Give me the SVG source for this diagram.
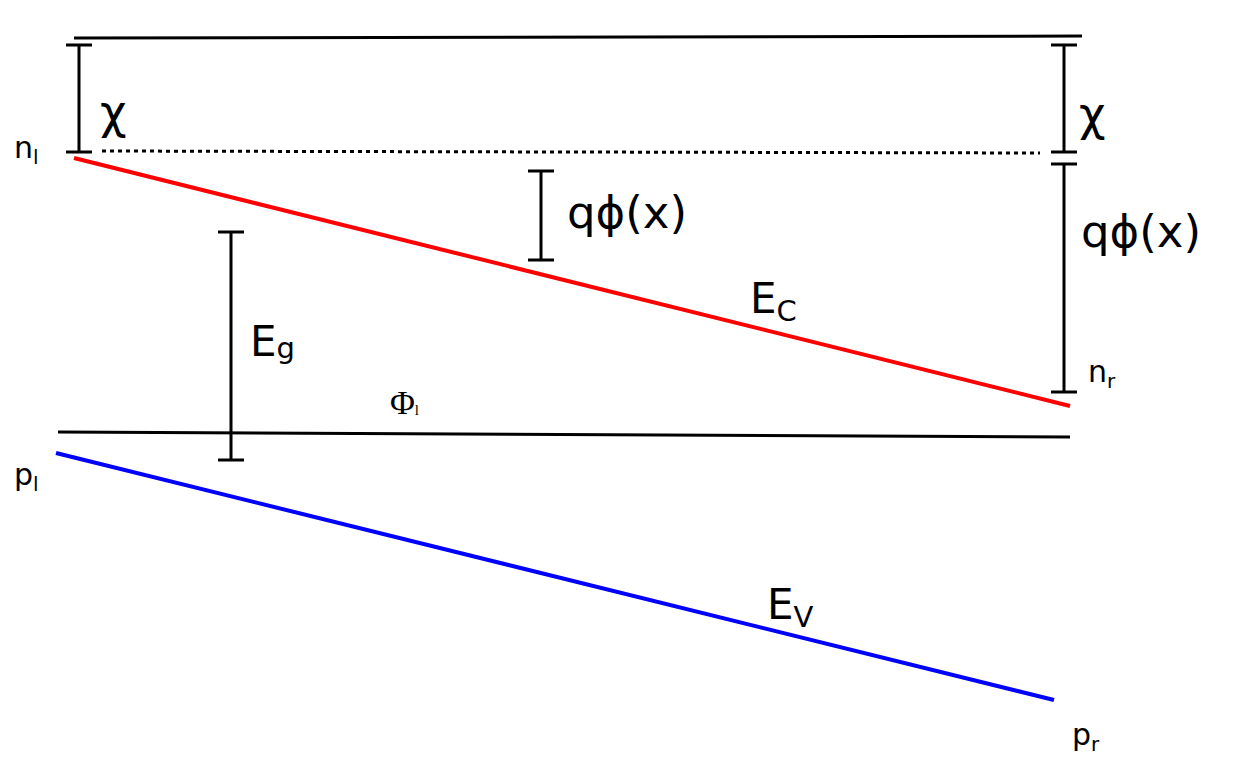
<svg xmlns="http://www.w3.org/2000/svg" width="1235" height="779" viewBox="0 0 1235 779">
<style>
.k{stroke:#000;stroke-width:3;fill:none}
.t{font-family:"DejaVu Sans",sans-serif;fill:#000}
.s{font-family:"Liberation Serif",serif;fill:#000}
</style>
<rect width="1235" height="779" fill="#fff"/>
<g id="connectors">
<line class="k" x1="74" y1="38" x2="1082" y2="36"/>
<line class="k" x1="102" y1="151" x2="1040" y2="153" stroke-dasharray="4,4"/>
<line x1="74" y1="158" x2="1070" y2="406" stroke="#f00" stroke-width="4"/>
<line class="k" x1="58" y1="432" x2="1070" y2="437"/>
<line x1="56" y1="453" x2="1054" y2="700" stroke="#00f" stroke-width="4"/>
<path class="k" d="M66 45H92M79 45V152M66 152H92"/>
<path class="k" d="M1051 45H1077M1064 45V152M1051 152H1077"/>
<path class="k" d="M1051 164H1077M1064 164V392M1051 392H1077"/>
<path class="k" d="M528 171H554M541 171V260M528 260H554"/>
<path class="k" d="M218 232H244M231 232V460M218 460H244"/>
</g>
<g id="labels">
<text class="t" x="100" y="128" font-size="46">χ</text>
<text class="t" x="1079" y="130" font-size="46">χ</text>
<text class="t" x="14" y="158" font-size="30">n<tspan font-size="20" dy="6">l</tspan></text>
<text class="t" x="567" y="228" font-size="45">qϕ(x)</text>
<text class="t" x="1081" y="247" font-size="45">qϕ(x)</text>
<text class="t" x="750" y="313" font-size="42">E<tspan font-size="29" dy="8">C</tspan></text>
<text class="t" x="250" y="356" font-size="42">E<tspan font-size="29" dy="2">g</tspan></text>
<text class="t" x="1088" y="382" font-size="30">n<tspan font-size="20" dy="6">r</tspan></text>
<text class="s" x="390" y="414" font-size="34">Φ<tspan font-size="15" dy="1">l</tspan></text>
<text class="t" x="14" y="485" font-size="30">p<tspan font-size="20" dy="6">l</tspan></text>
<text class="t" x="767" y="619" font-size="42">E<tspan font-size="29" dy="8">V</tspan></text>
<text class="t" x="1072" y="745" font-size="30">p<tspan font-size="20" dy="6">r</tspan></text>
</g>
</svg>
